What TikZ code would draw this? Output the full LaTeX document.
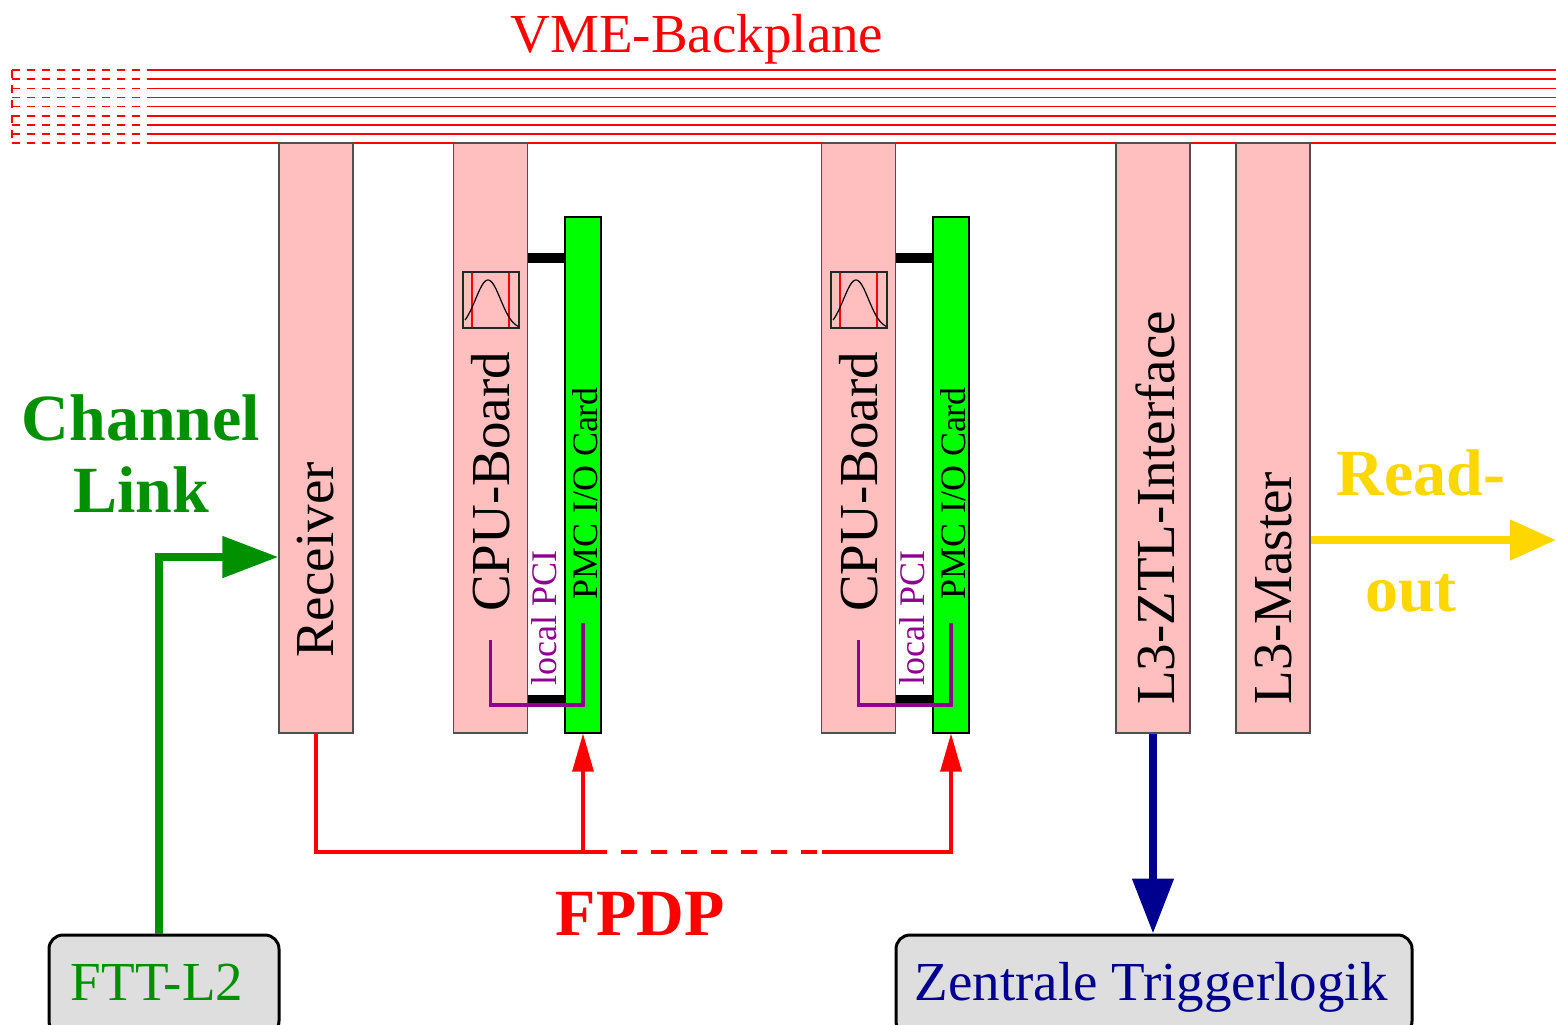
\documentclass[tikz,border=0pt]{standalone}
\usepackage{fontspec}
\setmainfont{Liberation Serif}
\usetikzlibrary{arrows.meta,calc}
\definecolor{boardpink}{HTML}{FFBFBF}
\definecolor{boardedge}{HTML}{505050}
\definecolor{pmcgreen}{HTML}{00FF00}
\definecolor{ftgreen}{HTML}{009000}
\definecolor{ztlblue}{HTML}{000090}
\definecolor{pcipurple}{HTML}{900090}
\definecolor{rogold}{HTML}{FFD700}
\definecolor{boxgray}{HTML}{DEDEDE}
\begin{document}
\begin{tikzpicture}[x=0.5pt,y=-0.5pt,
  board/.style={draw=boardedge, fill=boardpink, line width=0.6pt, minimum width=37pt, minimum height=295pt, inner sep=0pt},
  pmccard/.style={draw=black, fill=pmcgreen, line width=0.6pt, minimum width=18pt, minimum height=258pt, inner sep=0pt},
  bigtxt/.style={font=\fontsize{27.5}{30}\selectfont},
  smalltxt/.style={font=\fontsize{18}{20}\selectfont},
  boldtxt/.style={font=\bfseries\fontsize{33}{36}\selectfont},
  roundbox/.style={draw=black, fill=boxgray, line width=1.5pt, rounded corners=7pt, inner sep=0pt},
  bpline/.style={red, line width=0.75pt},
  bpdash/.style={red, line width=0.75pt, dash pattern=on 4pt off 3.5pt},
  busbar/.style={black, line width=5pt},
  pcibracket/.style={pcipurple, line width=1.6pt},
  fpdpline/.style={red, line width=1.6pt},
  fpdptip/.style={-{Triangle[length=19pt,width=10.5pt]}},
  fatarrow/.style={line width=4pt},
]
\useasboundingbox (0,0) rectangle (1556,1024);

% ---------- VME backplane ----------
\foreach \i in {0,...,8} {
  \draw[bpline] (152,{70+9.15*\i}) -- (1556,{70+9.15*\i});
  \draw[bpdash] (12,{70+9.15*\i}) -- (152,{70+9.15*\i});
}
\draw[bpdash] (12,70) -- (12,143.2);
\node[bigtxt, text=red, anchor=base] (vmetxt) at (697,52) {VME-Backplane};

% ---------- boards ----------
\node[board] (recv) at (316,438) {};
\node[board] (cpu1) at (490.5,438) {};
\node[pmccard] (pmc1) at (583,475) {};
\node[board] (cpu2) at (858.5,438) {};
\node[pmccard] (pmc2) at (951,475) {};
\node[board] (ztl) at (1153,438) {};
\node[board] (master) at (1273,438) {};

% ---------- icons on CPU boards ----------
\foreach \ox in {0,368} {
  \begin{scope}[xshift=\ox*0.5pt]
    \draw[red, line width=0.6pt] (472,272) -- (472,328);
    \draw[red, line width=0.6pt] (509,272) -- (509,328);
    \draw[black, line width=0.6pt, domain=465:519, samples=50, smooth]
      plot (\x, {329 - 49*exp(-((\x-488)*(\x-488))/312)});
    \draw[black!85, line width=0.7pt] (463,272) rectangle (519,328);
  \end{scope}
}

% ---------- CPU <-> PMC connections ----------
\coordinate (bt) at (0,258);
\coordinate (bb) at (0,699);
\draw[busbar] (cpu1.east |- bt) -- (pmc1.west |- bt);
\draw[busbar, line width=4pt] (cpu1.east |- bb) -- (pmc1.west |- bb);
\draw[busbar] (cpu2.east |- bt) -- (pmc2.west |- bt);
\draw[busbar, line width=4pt] (cpu2.east |- bb) -- (pmc2.west |- bb);

\coordinate (pa) at (0,640);
\coordinate (pb) at (0,705);
\coordinate (pc) at (0,623);
\draw[pcibracket] (cpu1 |- pa) -- (cpu1 |- pb) -- (pmc1 |- pb) -- (pmc1 |- pc);
\draw[pcibracket] (cpu2 |- pa) -- (cpu2 |- pb) -- (pmc2 |- pb) -- (pmc2 |- pc);

% ---------- board labels ----------
\node[bigtxt, rotate=90] (recvtxt) at (316,560) {Receiver};
\node[bigtxt, rotate=90] (cpu1txt) at (491,482) {CPU-Board};
\node[bigtxt, rotate=90] (cpu2txt) at (859,482) {CPU-Board};
\node[smalltxt, rotate=90] (pmc1txt) at (585,493) {PMC I/O Card};
\node[smalltxt, rotate=90] (pmc2txt) at (953,493) {PMC I/O Card};
\node[smalltxt, rotate=90, text=pcipurple] (pci1txt) at (544,618) {local PCI};
\node[smalltxt, rotate=90, text=pcipurple] (pci2txt) at (912,618) {local PCI};
\node[bigtxt, rotate=90] (ztltxt) at (1155,508) {L3-ZTL-Interface};
\node[bigtxt, rotate=90] (mastertxt) at (1274,588) {L3-Master};

% ---------- bottom boxes ----------
\node[roundbox, minimum width=115pt, minimum height=50pt] (ftt) at (164,985) {};
\node[bigtxt, text=ftgreen, anchor=base] (ftttxt) at (157,1000) {FTT-L2};
\node[roundbox, minimum width=258pt, minimum height=50pt] (zent) at (1154,985) {};
\node[bigtxt, text=ztlblue, anchor=base] (zenttxt) at (1151,1000) {Zentrale Triggerlogik};

% ---------- Channel Link ----------
\coordinate (g1) at (159,557);
\draw[fatarrow, ftgreen, -{Triangle[length=28pt,width=20pt]}] (ftt.north -| g1) |- (recv.west |- g1);
\node[boldtxt, text=ftgreen, anchor=base] (chtxt) at (141,440) {Channel};
\node[boldtxt, text=ftgreen, anchor=base] (lktxt) at (141,512) {Link};

% ---------- FPDP ----------
\coordinate (d1) at (605,852);
\coordinate (d2) at (822,852);
\draw[fpdpline] (recv.south) |- (d1);
\draw[fpdpline, dash pattern=on 8pt off 7pt, dash phase=7pt] (d1) -- (d2);
\draw[fpdpline, fpdptip] (d2) -| (pmc2.south);
\draw[fpdpline, fpdptip] (pmc1.south |- d1) -- (pmc1.south);
\node[boldtxt, text=red, anchor=base] (fpdptxt) at (640,935) {FPDP};

% ---------- to central trigger logic ----------
\draw[fatarrow, ztlblue, -{Triangle[length=27.5pt,width=20pt]}] (ztl.south) -- (zent.north -| ztl.south);

% ---------- Read-out ----------
\coordinate (roend) at (1556,540);
\draw[fatarrow, rogold, -{Triangle[length=23pt,width=19.5pt]}] (master.east |- roend) -- (roend);
\node[boldtxt, text=rogold, anchor=base] (rotxt) at (1421,495) {Read-};
\node[boldtxt, text=rogold, anchor=base] (outtxt) at (1411,611) {out};
\end{tikzpicture}
\end{document}
